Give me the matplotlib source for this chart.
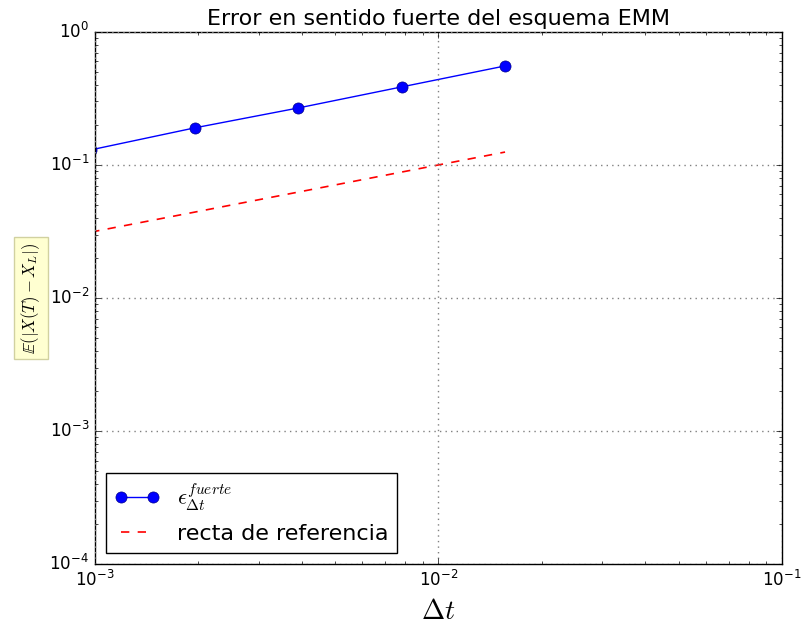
import matplotlib
matplotlib.use('Agg')
import matplotlib.pyplot as plt
import numpy as np

plt.style.use('classic')

# pasos de tiempo y errores
dt = [2**-10, 2**-9, 2**-8, 2**-7, 2**-6]
err_fuerte = [0.130, 0.190, 0.268, 0.386, 0.555]
ref = [0.0313, 0.0442, 0.0625, 0.0884, 0.125]

fig = plt.figure(figsize=(8.03, 6.26), dpi=100, facecolor='white')
ax = fig.add_axes([0.118, 0.099, 0.856, 0.850])

ax.loglog(dt, err_fuerte, 'bo-', markersize=8, markeredgecolor='#00008b',
          label=r'$\epsilon_{\Delta t}^{fuerte}$')
ax.loglog(dt, ref, 'r--', linewidth=1.2, label='recta de referencia')

ax.set_xlim(1e-3, 1e-1)
ax.set_ylim(1e-4, 1e0)
ax.grid(True, which='major', color='gray', linestyle=':', linewidth=1)

ax.set_title('Error en sentido fuerte del esquema EMM', fontsize=16, pad=5)
ax.set_xlabel(r'$\Delta t$', fontsize=20)
ax.set_ylabel(r'$\mathbb{E}(|X(T)-X_L|)$', fontsize=12,
              bbox=dict(facecolor='#ffffcc', edgecolor='#cccc99', alpha=0.9))
ax.tick_params(labelsize=12)

leg = ax.legend(loc='lower left', fontsize=16, numpoints=2, fancybox=False)

fig.savefig('out.png', dpi=100, facecolor='white')
